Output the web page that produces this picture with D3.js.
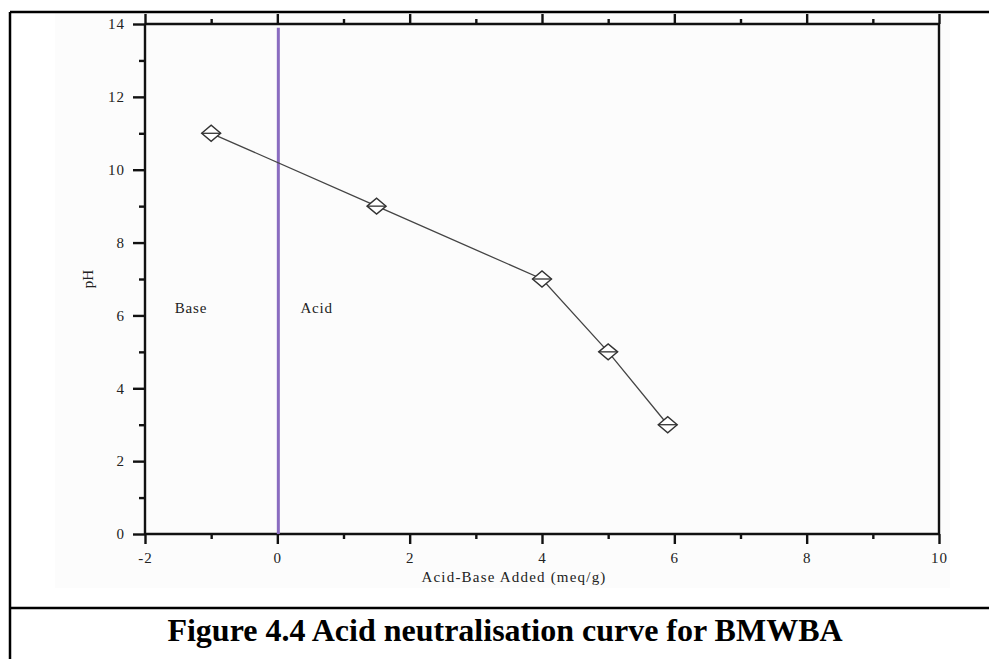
<!DOCTYPE html>
<html>
<head>
<meta charset="utf-8">
<script src="https://cdnjs.cloudflare.com/ajax/libs/d3/7.8.5/d3.min.js"></script>
<style>
    body { margin: 0; background: #ffffff; }
    svg { display: block; }
    .axis path, .axis line { stroke: #111; stroke-width: 2.4px; }
    .axis text { font-family: "Liberation Serif", "Times New Roman", serif; font-size: 15px; letter-spacing: 1px; fill: #222; }
</style>
</head>
<body>
<div class="importChart"></div>
<script>
    // data
    var acidBaseAdded = [-1, 1.5, 4, 5, 5.9];
    var phValues = [11, 9, 7, 5, 3];
    var xMajorTicks = [-2, 0, 2, 4, 6, 8, 10];
    var xMinorTicks = [-1, 1, 3, 5, 7, 9];
    var yMajorTicks = [0, 2, 4, 6, 8, 10, 12, 14];
    var yMinorTicks = [1, 3, 5, 7, 9, 11, 13];
    var regionLabels = ["Base", "Acid"];
    var regionLabelX = [-1.55, 0.35];
    var regionLabelY = [6.2, 6.2];

    var width = 989,
        height = 659,
        plot = { left: 145, right: 939, top: 24, bottom: 534 };

    var serif = "Liberation Serif, Times New Roman, serif";
    var plainNumber = function (d) { return String(d); }; // hyphen minus like the original

    var svg = d3.select(".importChart")
        .append("svg")
        .attr("width", width)
        .attr("height", height);

    // faint picture background
    svg.append("rect")
        .attr("x", 55).attr("y", 13)
        .attr("width", 895).attr("height", 575)
        .attr("fill", "#fcfcfc");

    // figure frame
    svg.append("line").attr("x1", 10).attr("y1", 12).attr("x2", 10).attr("y2", height)
        .attr("stroke", "#000").attr("stroke-width", 2.5);
    svg.append("line").attr("x1", 10).attr("y1", 12).attr("x2", width).attr("y2", 12)
        .attr("stroke", "#000").attr("stroke-width", 2.5);
    svg.append("line").attr("x1", 10).attr("y1", 608).attr("x2", width).attr("y2", 608)
        .attr("stroke", "#000").attr("stroke-width", 2.5);

    var x = d3.scaleLinear().domain([-2, 10]).range([plot.left, plot.right]);
    var y = d3.scaleLinear().domain([0, 14]).range([plot.bottom, plot.top]);

    // bottom axis
    svg.append("g")
        .attr("class", "axis")
        .attr("transform", "translate(0," + plot.bottom + ")")
        .call(d3.axisBottom(x).tickValues(xMajorTicks).tickSize(10).tickPadding(8).tickFormat(plainNumber))
        .call(function (g) { g.select(".domain").attr("d", "M" + plot.left + ",0H" + plot.right); });
    svg.append("g")
        .attr("class", "axis")
        .attr("transform", "translate(0," + plot.bottom + ")")
        .call(d3.axisBottom(x).tickValues(xMinorTicks).tickSize(5).tickFormat(""))
        .call(function (g) { g.select(".domain").remove(); });

    // top axis
    svg.append("g")
        .attr("class", "axis")
        .attr("transform", "translate(0," + plot.top + ")")
        .call(d3.axisTop(x).tickValues(xMajorTicks).tickSize(10).tickFormat(""))
        .call(function (g) { g.select(".domain").attr("d", "M" + plot.left + ",0H" + plot.right); });
    svg.append("g")
        .attr("class", "axis")
        .attr("transform", "translate(0," + plot.top + ")")
        .call(d3.axisTop(x).tickValues(xMinorTicks).tickSize(5).tickFormat(""))
        .call(function (g) { g.select(".domain").remove(); });

    // left axis
    svg.append("g")
        .attr("class", "axis")
        .attr("transform", "translate(" + plot.left + ",0)")
        .call(d3.axisLeft(y).tickValues(yMajorTicks).tickSize(12).tickPadding(8).tickFormat(plainNumber))
        .call(function (g) { g.select(".domain").attr("d", "M0," + plot.bottom + "V" + plot.top); });
    svg.append("g")
        .attr("class", "axis")
        .attr("transform", "translate(" + plot.left + ",0)")
        .call(d3.axisLeft(y).tickValues(yMinorTicks).tickSize(6).tickFormat(""))
        .call(function (g) { g.select(".domain").remove(); });

    // right axis, no ticks
    svg.append("line")
        .attr("x1", plot.right).attr("x2", plot.right)
        .attr("y1", plot.bottom).attr("y2", plot.top)
        .attr("stroke", "#111").attr("stroke-width", 2.4);

    // neutral line at x = 0
    svg.append("line")
        .attr("x1", x(0) + 1).attr("x2", x(0) + 1)
        .attr("y1", y(0)).attr("y2", y(13.9))
        .attr("stroke", "#8a6cc0")
        .attr("stroke-width", 3);

    // axis titles
    svg.append("text")
        .attr("x", 514).attr("y", 582)
        .attr("text-anchor", "middle")
        .style("font-family", serif)
        .style("font-size", "15px")
        .style("letter-spacing", "1.2px")
        .style("fill", "#222")
        .text("Acid-Base Added (meq/g)");

    svg.append("text")
        .attr("transform", "translate(93,279) rotate(-90)")
        .attr("text-anchor", "middle")
        .style("font-family", serif)
        .style("font-size", "15px")
        .style("fill", "#222")
        .text("pH");

    // region labels
    svg.selectAll(".region")
        .data(regionLabels)
        .enter().append("text")
        .attr("class", "region")
        .attr("x", function (d, i) { return x(regionLabelX[i]); })
        .attr("y", function (d, i) { return y(regionLabelY[i]) + 5; })
        .style("font-family", serif)
        .style("font-size", "15px")
        .style("letter-spacing", "0.8px")
        .style("fill", "#222")
        .text(function (d) { return d; });

    var points = acidBaseAdded.map(function (d, i) { return [d, phValues[i]]; });

    var line = d3.line()
        .x(function (d) { return x(d[0]); })
        .y(function (d) { return y(d[1]); });

    svg.append("path")
        .datum(points)
        .attr("d", line)
        .attr("fill", "none")
        .attr("stroke", "#444")
        .attr("stroke-width", 1.3);

    // diamond markers with a horizontal bar
    var marker = svg.selectAll(".marker")
        .data(points)
        .enter().append("g")
        .attr("class", "marker")
        .attr("transform", function (d) { return "translate(" + x(d[0]) + "," + y(d[1]) + ")"; });

    marker.append("path")
        .attr("d", "M-9.5,0L0,-8L9.5,0L0,8Z")
        .attr("fill", "#ffffff")
        .attr("stroke", "#333")
        .attr("stroke-width", 1.4);

    marker.append("line")
        .attr("x1", -9.5).attr("x2", 9.5)
        .attr("y1", 0).attr("y2", 0)
        .attr("stroke", "#333")
        .attr("stroke-width", 1.3);

    // caption
    svg.append("text")
        .attr("x", 505).attr("y", 641)
        .attr("text-anchor", "middle")
        .style("font-family", serif)
        .style("font-size", "32px")
        .style("font-weight", "bold")
        .style("fill", "#000")
        .text("Figure 4.4 Acid neutralisation curve for BMWBA");
</script>
</body>
</html>
